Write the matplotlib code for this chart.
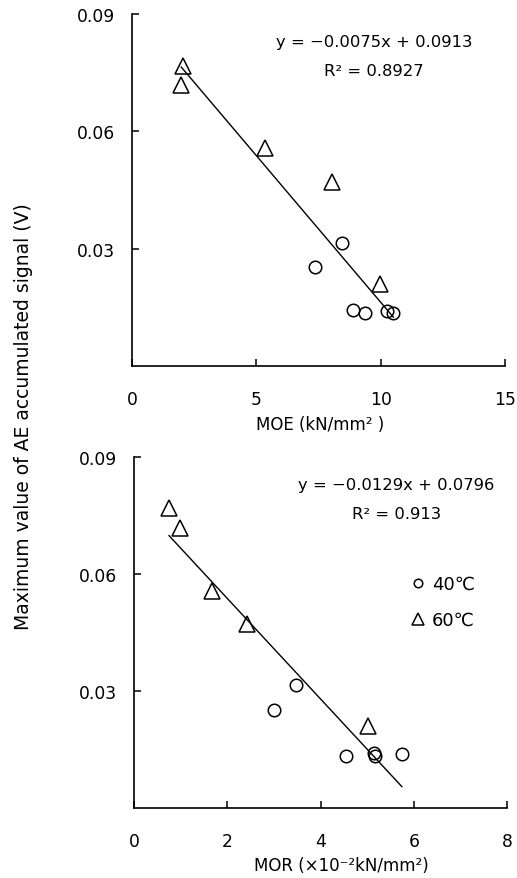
import matplotlib
matplotlib.use('Agg')
import matplotlib.pyplot as plt
import numpy as np

plt.rcParams['font.family'] = ['DejaVu Sans']

# MOE panel (kN/mm2)
moe_40 = [8.45, 7.35, 8.88, 9.36, 10.27, 10.51]
sig_moe_40 = [0.0314, 0.0254, 0.0144, 0.0136, 0.0140, 0.0136]
moe_60 = [2.05, 1.98, 5.36, 8.06, 9.98]
sig_moe_60 = [0.0768, 0.0718, 0.0557, 0.0471, 0.0210]
moe_fit = (-0.0075, 0.0913)
moe_r2 = '0.8927'

# MOR panel (x10^-2 kN/mm2)
mor_40 = [3.48, 3.01, 4.55, 5.14, 5.16, 5.74]
sig_mor_40 = [0.0315, 0.0253, 0.0135, 0.0142, 0.0135, 0.0138]
mor_60 = [0.75, 0.99, 1.67, 2.42, 5.02]
sig_mor_60 = [0.0770, 0.0720, 0.0556, 0.0472, 0.0210]
mor_fit = (-0.0129, 0.0796)
mor_r2 = '0.913'

yticks = [0.03, 0.06, 0.09]
ytick_labels = ['0.03', '0.06', '0.09']

fig = plt.figure(figsize=(5.17, 8.79), dpi=100)
ax1 = fig.add_axes([0.2553, 0.5825, 0.7215, 0.4004])
ax2 = fig.add_axes([0.2592, 0.0793, 0.7221, 0.3993])


def draw(ax, x40, y40, x60, y60, fit, r2, xmax, xticks, eq_x):
    xs = np.array(x40 + x60)
    xl = np.array([xs.min(), xs.max()])
    ax.plot(xl, fit[0] * xl + fit[1], color='black', lw=1.0)
    ax.plot(x40, y40, 'o', ms=9, mfc='none', mec='black', mew=1.1,
            label='40\u2103')
    ax.plot(x60, y60, '^', ms=12, mfc='none', mec='black', mew=1.1,
            label='60\u2103')
    ax.set_xlim(0, xmax)
    ax.set_ylim(0, 0.09)
    ax.set_xticks(xticks)
    ax.set_yticks(yticks)
    ax.set_yticklabels(ytick_labels)
    for s in ['top', 'right']:
        ax.spines[s].set_visible(False)
    for s in ['left', 'bottom']:
        ax.spines[s].set_linewidth(1.2)
    ax.tick_params(axis='both', direction='in', length=5, width=1.1,
                   labelsize=12.3)
    ax.tick_params(axis='x', pad=17)
    ax.tick_params(axis='y', pad=12)
    slope = ('%.4f' % -fit[0])[1:]
    ax.text(eq_x, 0.923, 'y = \u22120%sx + %.4f' % (slope, fit[1]),
            transform=ax.transAxes, ha='center', va='center', fontsize=11.8)
    ax.text(eq_x, 0.840, 'R\u00b2 = ' + r2, transform=ax.transAxes,
            ha='center', va='center', fontsize=11.8)


draw(ax1, moe_40, sig_moe_40, moe_60, sig_moe_60, moe_fit, moe_r2,
     15, [0, 5, 10, 15], 0.649)
draw(ax2, mor_40, sig_mor_40, mor_60, sig_mor_60, mor_fit, mor_r2,
     8, [0, 2, 4, 6, 8], 0.702)

ax2.legend(loc='upper left', bbox_to_anchor=(0.72, 0.69), frameon=False,
           borderpad=0, handlelength=0.65, handletextpad=0.45,
           labelspacing=1.0, markerscale=0.68, fontsize=13)

fig.text(320 / 517, 1 - 425 / 879, 'MOE (kN/mm\u00b2 )', ha='center',
         va='center', fontsize=12)
fig.text(341 / 517, 1 - 866 / 879, 'MOR (\u00d710\u207b\u00b2kN/mm\u00b2)',
         ha='center', va='center', fontsize=12)
fig.text(24 / 517, 1 - 417 / 879, 'Maximum value of AE accumulated signal (V)',
         rotation=90, ha='center', va='center', fontsize=13.5)

fig.savefig('out.png', dpi=100)
